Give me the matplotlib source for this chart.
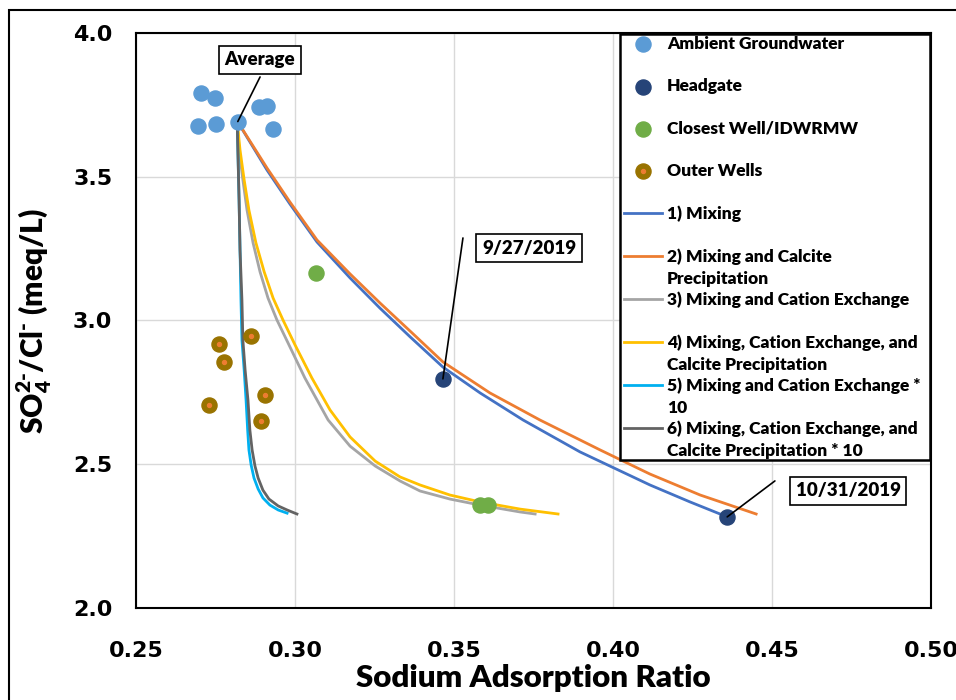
import matplotlib
matplotlib.use('Agg')
import matplotlib.pyplot as plt
from matplotlib.patches import Rectangle
from matplotlib.legend_handler import HandlerTuple

plt.rcParams['font.family'] = ['Lato', 'DejaVu Sans']
plt.rcParams['font.weight'] = 'heavy'
plt.rcParams['mathtext.fontset'] = 'custom'
plt.rcParams['mathtext.bf'] = 'Lato:heavy'
plt.rcParams['mathtext.rm'] = 'Lato:heavy'

# --- samples ---
amb_sar   = [0.2703, 0.2748, 0.2695, 0.2751, 0.2820, 0.2888, 0.2912, 0.2930]
amb_ratio = [3.790, 3.773, 3.677, 3.683, 3.692, 3.742, 3.747, 3.665]
avg_sar, avg_ratio = 0.2820, 3.692

head_sar   = [0.3465, 0.4359]
head_ratio = [2.797, 2.317]
head_dates = ['9/27/2019', '10/31/2019']

close_sar   = [0.3066, 0.3582, 0.3608]
close_ratio = [3.165, 2.358, 2.358]

outer_sar   = [0.2762, 0.2862, 0.2777, 0.2906, 0.2730, 0.2894]
outer_ratio = [2.917, 2.946, 2.855, 2.740, 2.706, 2.650]

# --- model curves ---
mix_x = [0.2818, 0.2912, 0.2984, 0.3069, 0.3173, 0.3267, 0.3362, 0.3465,
         0.3582, 0.3717, 0.3896, 0.4116, 0.4242, 0.4359]
mix_y = [3.694, 3.523, 3.405, 3.273, 3.148, 3.043, 2.943, 2.838,
         2.748, 2.654, 2.543, 2.428, 2.369, 2.317]

calc_x = [0.2818, 0.2912, 0.2984, 0.3069, 0.3173, 0.3267, 0.3362, 0.3465,
          0.3613, 0.3770, 0.3959, 0.4116, 0.4274, 0.4450]
calc_y = [3.694, 3.530, 3.412, 3.280, 3.162, 3.061, 2.963, 2.856,
          2.748, 2.654, 2.550, 2.466, 2.393, 2.327]

cex_x = [0.2818, 0.2824, 0.2836, 0.2849, 0.2868, 0.2890, 0.2915, 0.2943, 0.2981,
         0.3031, 0.3104, 0.3173, 0.3252, 0.3330, 0.3393, 0.3487, 0.3582, 0.3708, 0.3755]
cex_y = [3.694, 3.593, 3.489, 3.384, 3.270, 3.169, 3.078, 3.002, 2.915,
         2.800, 2.654, 2.563, 2.494, 2.442, 2.407, 2.379, 2.358, 2.334, 2.327]

cexc_x = [0.2818, 0.2827, 0.2840, 0.2855, 0.2877, 0.2903, 0.2931, 0.2962, 0.3000,
          0.3053, 0.3110, 0.3173, 0.3252, 0.3330, 0.3393, 0.3487, 0.3582, 0.3708, 0.3827]
cexc_y = [3.694, 3.593, 3.489, 3.384, 3.270, 3.169, 3.078, 3.002, 2.915,
          2.800, 2.689, 2.595, 2.511, 2.456, 2.428, 2.393, 2.369, 2.344, 2.327]

cex10_x = [0.2818, 0.2821, 0.2824, 0.2827, 0.2830, 0.2833, 0.2840, 0.2846, 0.2851,
           0.2855, 0.2862, 0.2871, 0.2884, 0.2899, 0.2921, 0.2947, 0.2975]
cex10_y = [3.694, 3.558, 3.419, 3.245, 3.071, 2.932, 2.828, 2.723, 2.619,
           2.550, 2.497, 2.452, 2.414, 2.383, 2.358, 2.341, 2.330]

cexc10_x = [0.2818, 0.2821, 0.2824, 0.2827, 0.2833, 0.2836, 0.2843, 0.2852, 0.2858,
            0.2865, 0.2874, 0.2884, 0.2899, 0.2918, 0.2947, 0.2975, 0.3006]
cexc10_y = [3.694, 3.558, 3.419, 3.245, 3.071, 2.932, 2.828, 2.723, 2.619,
            2.550, 2.494, 2.452, 2.410, 2.379, 2.355, 2.341, 2.327]

x_ticks = [0.25, 0.30, 0.35, 0.40, 0.45, 0.50]
y_ticks = [2.0, 2.5, 3.0, 3.5, 4.0]

fig = plt.figure(figsize=(9.56, 7.0), dpi=100)
ax = fig.add_axes([0.1423, 0.1314, 0.8316, 0.8215])

ms = 118
h_amb = ax.scatter(amb_sar, amb_ratio, s=ms, color='#5B9BD5', zorder=4)
h_head = ax.scatter(head_sar, head_ratio, s=ms, color='#264478', zorder=4)
h_close = ax.scatter(close_sar, close_ratio, s=ms, color='#70AD47', zorder=4)
h_outer = ax.scatter(outer_sar, outer_ratio, s=ms, color='#997300', zorder=4)
h_dot = ax.scatter(outer_sar, outer_ratio, s=8, color='#ED7D31', zorder=5)

lw = 2.0
l1, = ax.plot(mix_x, mix_y, color='#4472C4', lw=lw, zorder=3)
l2, = ax.plot(calc_x, calc_y, color='#ED7D31', lw=lw, zorder=3)
l3, = ax.plot(cex_x, cex_y, color='#A5A5A5', lw=lw, zorder=3)
l4, = ax.plot(cexc_x, cexc_y, color='#FFC000', lw=lw, zorder=3)
l5, = ax.plot(cex10_x, cex10_y, color='#00B0F0', lw=lw, zorder=3)
l6, = ax.plot(cexc10_x, cexc10_y, color='#636363', lw=lw, zorder=3)

ax.set_xlim(0.25, 0.50)
ax.set_ylim(2.0, 4.0)
ax.set_xticks(x_ticks)
ax.set_yticks(y_ticks)
ax.set_xticklabels(['%.2f' % v for v in x_ticks], family='DejaVu Sans',
                   fontweight='bold', fontsize=16)
ax.set_yticklabels(['%.1f' % v for v in y_ticks], family='DejaVu Sans',
                   fontweight='bold', fontsize=16)
ax.tick_params(axis='x', length=0, pad=24)
ax.tick_params(axis='y', length=0, pad=17)
ax.grid(True, color='#D9D9D9', lw=1.0, zorder=0)
ax.set_axisbelow(True)
for sp in ax.spines.values():
    sp.set_linewidth(1.5)
    sp.set_color('black')

ax.set_xlabel('Sodium Adsorption Ratio', fontsize=22.5, fontweight='heavy', labelpad=2)
ax.set_ylabel(r'SO$_\mathbf{4}^{\mathbf{2}\text{-}}$/Cl$^{\text{-}}$ (meq/L)',
              fontsize=21.5, fontweight='heavy', labelpad=14)

# callouts
box = dict(boxstyle='square,pad=0.3', fc='white', ec='black', lw=1.2)
ax.annotate('', xy=(avg_sar, avg_ratio), xytext=(0.2890, 3.847),
            arrowprops=dict(arrowstyle='-', color='black', lw=1.2,
                            shrinkA=0, shrinkB=0), zorder=6)
ax.text(0.2890, 3.906, 'Average', ha='center', va='center', fontsize=13.5,
        fontweight='heavy', bbox=box, zorder=7)

line_starts = [(0.3528, 3.287), (0.4509, 2.442)]
box_pos = [(0.3736, 3.252), (0.4739, 2.407)]
for i in range(2):
    ax.annotate('', xy=(head_sar[i], head_ratio[i]), xytext=line_starts[i],
                arrowprops=dict(arrowstyle='-', color='black', lw=1.2,
                                shrinkA=0, shrinkB=0), zorder=6)
    ax.text(box_pos[i][0], box_pos[i][1], head_dates[i], ha='center', va='center',
            fontsize=13.5, fontweight='heavy', bbox=box, zorder=7)

# legend
handles = [h_amb, h_head, h_close, (h_outer, h_dot), l1, l2, l3, l4, l5, l6]
labels = ['Ambient Groundwater', 'Headgate', 'Closest Well/IDWRMW', 'Outer Wells',
          '1) Mixing', '2) Mixing and Calcite', '3) Mixing and Cation Exchange',
          '4) Mixing, Cation Exchange, and', '5) Mixing and Cation Exchange *',
          '6) Mixing, Cation Exchange, and']
second = {5: 'Precipitation', 7: 'Calcite Precipitation', 8: '10',
          9: 'Calcite Precipitation * 10'}

leg = ax.legend(handles, labels, loc='upper left', bbox_to_anchor=(0.611, 0.998),
                frameon=False, borderpad=0.1, borderaxespad=0,
                prop={'size': 12.5, 'weight': 'heavy'}, handlelength=2.2,
                handletextpad=0.3, labelspacing=1.52, handleheight=0.7,
                handler_map={tuple: HandlerTuple(ndivide=1)})
leg.set_zorder(8)
for i, txt in second.items():
    ax.annotate(txt, xy=(0, 0), xycoords=leg.get_texts()[i], xytext=(0, -4.5),
                textcoords='offset points', ha='left', va='top', fontsize=12.5,
                fontweight='heavy', zorder=9, annotation_clip=False)

ax.add_patch(Rectangle((0.609, 0.257), 0.390, 0.742, transform=ax.transAxes,
                       fill=True, fc='white', ec='black', lw=1.8, zorder=7.5,
                       clip_on=False))

# outer chart border
fig.add_artist(Rectangle((9 / 956, -1.0), 2.0, 1.0 + (1 - 10 / 700),
                         transform=fig.transFigure, fill=False, ec='black', lw=1.5))

fig.savefig('out.png', dpi=100)
